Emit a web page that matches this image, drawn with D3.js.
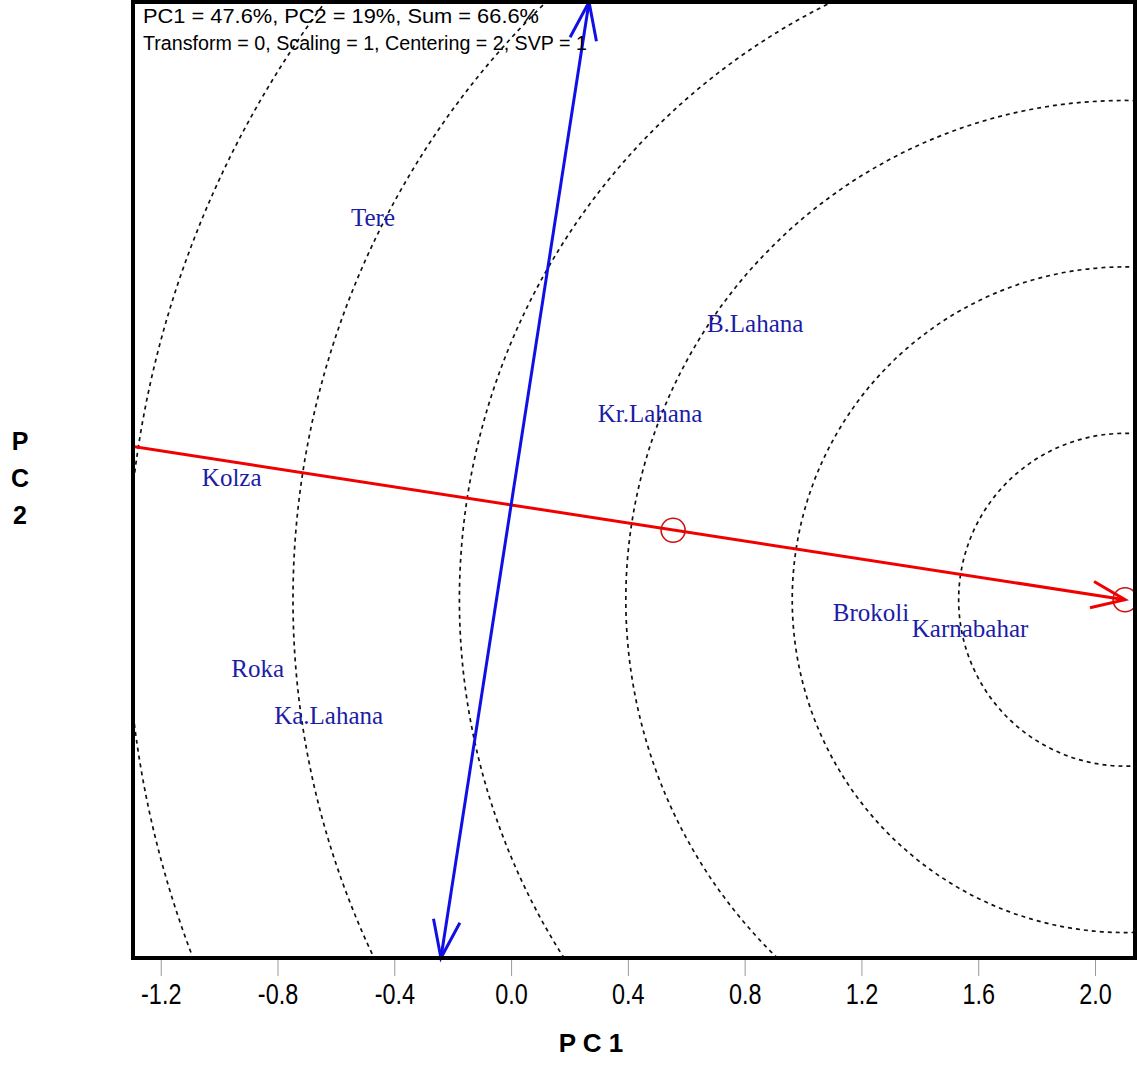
<!DOCTYPE html>
<html>
<head>
<meta charset="utf-8">
<script src="https://cdn.jsdelivr.net/npm/d3@7"></script>
<style>
  body { margin: 0; background: #fff; }
  svg { display: block; }
</style>
</head>
<body>
<svg id="chart" width="1137" height="1073"></svg>
<script>
// genotype labels (PC1, PC2)
var genotypes = ["Tere", "B.Lahana", "Kr.Lahana", "Kolza", "Brokoli", "Karnabahar", "Roka", "Ka.Lahana"];
var pc1 = [-0.473, 0.836, 0.476, -0.957, 1.233, 1.572, -0.868, -0.625];
var pc2 = [0.986, 0.623, 0.315, 0.096, -0.366, -0.421, -0.558, -0.719];

// average environment and ideal genotype
var avgEnv = [0.555, -0.086];
var ideal = [2.103, -0.324];
var ringStep = 0.57;
var ringCount = 7;

var xTicks = [-1.2, -0.8, -0.4, 0.0, 0.4, 0.8, 1.2, 1.6, 2.0];
var headerLines = ["PC1 = 47.6%, PC2 = 19%, Sum = 66.6%",
                   "Transform = 0, Scaling = 1, Centering = 2, SVP = 1"];

var svg = d3.select("#chart");
var plot = {left: 133, right: 1135, top: 2, bottom: 958};

var x = d3.scaleLinear().domain([-1.295, 2.137]).range([plot.left, plot.right]);
var y = d3.scaleLinear().domain([-1.551, 1.723]).range([plot.bottom, plot.top]);
var unit = x(1) - x(0);

svg.append("clipPath").attr("id", "clip")
  .append("rect")
  .attr("x", plot.left).attr("y", plot.top)
  .attr("width", plot.right - plot.left).attr("height", plot.bottom - plot.top);

var g = svg.append("g").attr("clip-path", "url(#clip)");

// concentric rings round the ideal genotype
g.selectAll("circle.ring")
  .data(d3.range(1, ringCount + 1))
  .enter().append("circle")
  .attr("class", "ring")
  .attr("cx", x(ideal[0]))
  .attr("cy", y(ideal[1]))
  .attr("r", function(k) { return k * ringStep * unit; })
  .attr("fill", "none")
  .attr("stroke", "#111")
  .attr("stroke-width", 1.7)
  .attr("stroke-dasharray", "4,4");

// average environment axis (red)
var slope = avgEnv[1] / avgEnv[0];
var xLeft = x.domain()[0];
g.append("line")
  .attr("x1", x(xLeft)).attr("y1", y(xLeft * slope))
  .attr("x2", x(ideal[0])).attr("y2", y(ideal[1]))
  .attr("stroke", "#f00000").attr("stroke-width", 3);

// perpendicular axis (blue) through origin
var yTop = y.domain()[1], yBot = y.domain()[0];
var blueTop = [-slope * yTop, yTop];
var blueBot = [-slope * yBot, yBot];
g.append("line")
  .attr("x1", x(blueBot[0])).attr("y1", y(blueBot[1]))
  .attr("x2", x(blueTop[0])).attr("y2", y(blueTop[1]))
  .attr("stroke", "#1010e6").attr("stroke-width", 3);

// open arrow head at (tx,ty) coming from (fx,fy)
function arrowHead(fx, fy, tx, ty, len, ang) {
  var a = Math.atan2(ty - fy, tx - fx);
  var p1 = [tx - len * Math.cos(a - ang), ty - len * Math.sin(a - ang)];
  var p2 = [tx - len * Math.cos(a + ang), ty - len * Math.sin(a + ang)];
  return "M" + p1 + "L" + tx + "," + ty + "L" + p2;
}

svg.append("path")
  .attr("d", arrowHead(x(0), y(0), x(ideal[0]), y(ideal[1]), 36, 0.38))
  .attr("fill", "none").attr("stroke", "#f00000").attr("stroke-width", 3);
svg.append("path")
  .attr("d", arrowHead(x(0), y(0), x(blueTop[0]), y(blueTop[1]), 40, 0.34))
  .attr("fill", "none").attr("stroke", "#1010e6").attr("stroke-width", 3);
svg.append("path")
  .attr("d", arrowHead(x(0), y(0), x(blueBot[0]), y(blueBot[1]), 40, 0.34))
  .attr("fill", "none").attr("stroke", "#1010e6").attr("stroke-width", 3);

// markers for average environment and ideal
svg.selectAll("circle.mark")
  .data([avgEnv, ideal])
  .enter().append("circle")
  .attr("class", "mark")
  .attr("cx", function(d) { return x(d[0]); })
  .attr("cy", function(d) { return y(d[1]); })
  .attr("r", 12)
  .attr("fill", "none")
  .attr("stroke", "#d01010")
  .attr("stroke-width", 1.6);

// genotype names
svg.selectAll("text.geno")
  .data(genotypes)
  .enter().append("text")
  .attr("class", "geno")
  .attr("x", function(d, i) { return x(pc1[i]); })
  .attr("y", function(d, i) { return y(pc2[i]); })
  .attr("text-anchor", "middle")
  .attr("dy", "0.35em")
  .attr("font-family", "Liberation Serif, Times New Roman, serif")
  .attr("font-size", 25)
  .attr("fill", "#1c1ca6")
  .text(function(d) { return d; });

// frame
svg.append("rect")
  .attr("x", plot.left).attr("y", plot.top)
  .attr("width", plot.right - plot.left).attr("height", plot.bottom - plot.top)
  .attr("fill", "none").attr("stroke", "#000").attr("stroke-width", 4);

// header text
svg.selectAll("text.head")
  .data(headerLines)
  .enter().append("text")
  .attr("class", "head")
  .attr("x", 143)
  .attr("y", function(d, i) { return 23 + i * 27; })
  .attr("font-family", "Liberation Sans, Arial, sans-serif")
  .attr("font-size", 20)
  .attr("textLength", function(d, i) { return i == 0 ? 396 : 444; })
  .attr("lengthAdjust", "spacingAndGlyphs")
  .attr("fill", "#000")
  .text(function(d) { return d; });

// x axis
var xAxis = d3.axisBottom(x)
  .tickValues(xTicks)
  .tickSize(16)
  .tickPadding(7)
  .tickFormat(function(d) { return d.toFixed(1); });

var ax = svg.append("g")
  .attr("transform", "translate(0," + (plot.bottom + 2) + ")")
  .call(xAxis);
ax.select(".domain").remove();
ax.selectAll(".tick line").attr("stroke", "#999").attr("stroke-width", 1);
ax.selectAll(".tick text")
  .attr("font-family", "Liberation Sans, Arial, sans-serif")
  .attr("font-size", 30)
  .attr("transform", "scale(0.78,1)")
  .attr("fill", "#000");

// axis titles
svg.append("text")
  .attr("x", 591).attr("y", 1052)
  .attr("text-anchor", "middle")
  .attr("font-family", "Liberation Sans, Arial, sans-serif")
  .attr("font-weight", "bold")
  .attr("font-size", 26)
  .attr("fill", "#000")
  .text("P C 1");

svg.selectAll("text.ytitle")
  .data(["P", "C", "2"])
  .enter().append("text")
  .attr("class", "ytitle")
  .attr("x", 20)
  .attr("y", function(d, i) { return 450 + i * 37; })
  .attr("text-anchor", "middle")
  .attr("font-family", "Liberation Sans, Arial, sans-serif")
  .attr("font-weight", "bold")
  .attr("font-size", 25)
  .attr("fill", "#000")
  .text(function(d) { return d; });
</script>
</body>
</html>
